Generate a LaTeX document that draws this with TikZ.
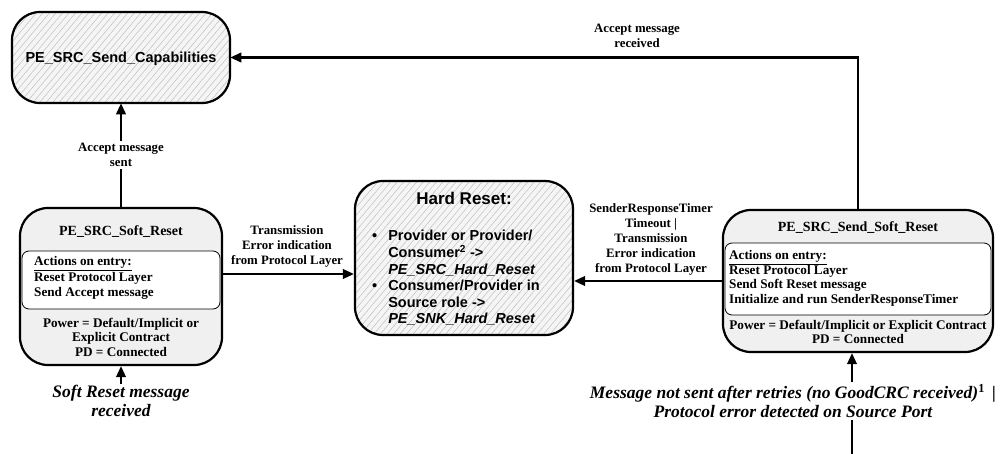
\documentclass[tikz,border=0pt]{standalone}
\usepackage{fontspec}
\setmainfont{Liberation Serif}
\newfontfamily\arialf{Liberation Sans}
\usetikzlibrary{arrows.meta,patterns.meta,calc}
\begin{document}
\begin{tikzpicture}[x=1pt,y=-1pt,
  arr/.style={line width=2.2pt,-{Triangle[length=11pt,width=9.5pt]}},
  hatchbox/.style={draw,line width=2.2pt,rounded corners=28pt,inner sep=0pt,
     preaction={fill=gray!8},
     pattern={Lines[angle=50,distance=5pt,line width=0.5pt]},pattern color=gray!50},
  statebox/.style={draw,line width=2.2pt,rounded corners=28pt,fill=gray!12,inner sep=0pt},
  actbox/.style={draw,line width=0.8pt,rounded corners=7pt,fill=white,inner sep=0pt},
  sanstitle/.style={font=\arialf\bfseries\fontsize{14.5}{16.5}\selectfont,align=center},
  boxtitle/.style={font=\bfseries\fontsize{14}{16}\selectfont,align=center},
  boxtxt/.style={font=\bfseries\fontsize{13.2}{14.5}\selectfont,inner sep=0pt},
  lbl/.style={font=\bfseries\fontsize{12.8}{15}\selectfont,align=center,inner sep=2pt},
  evt/.style={font=\bfseries\itshape\fontsize{17.5}{18.5}\selectfont,align=center,inner sep=2pt}
]
\useasboundingbox (0,0) rectangle (1005,453);

% states
\node[hatchbox,minimum width=218pt,minimum height=91pt] (cap) at (121,57.5) {};
\node[sanstitle] (captxt) at (121,59) {PE\_SRC\_Send\_Capabilities};

\node[statebox,minimum width=202pt,minimum height=157pt] (soft) at (121,286.5) {};
\node[boxtitle] (softtitle) at (121,232) {PE\_SRC\_Soft\_Reset};
\node[actbox,minimum width=198pt,minimum height=58pt] (softact) at (121,280) {};
\node[boxtxt,anchor=west,align=left,font=\bfseries\fontsize{13.2}{15.5}\selectfont] (softacttxt) at (34,278) {\underline{Actions on entry:}\\Reset Protocol Layer\\Send Accept message};
\node[boxtxt,align=center] (softcond) at (121,337) {Power = Default/Implicit or\\Explicit Contract\\PD = Connected};

\node[hatchbox,minimum width=218pt,minimum height=154pt] (hard) at (464,258) {};
\node[font=\arialf\bfseries\fontsize{17}{19}\selectfont] (hardtitle) at (464,198) {Hard Reset:};
\node[font=\arialf\bfseries\fontsize{14.5}{16.5}\selectfont,anchor=west,inner sep=0pt] (hardlist) at (372,279)
 {\begin{tabular}{@{}l@{\hspace{11pt}}l@{}}
  \textbullet & Provider or Provider/\\
   & Consumer\textsuperscript{2} ->\\
   & \textit{PE\_SRC\_Hard\_Reset}\\
  \textbullet & Consumer/Provider in\\
   & Source role ->\\
   & \textit{PE\_SNK\_Hard\_Reset}
 \end{tabular}};

\node[statebox,minimum width=270pt,minimum height=142pt] (ssr) at (858,281) {};
\node[boxtitle] (ssrtitle) at (858,228) {PE\_SRC\_Send\_Soft\_Reset};
\node[actbox,minimum width=266pt,minimum height=72pt] (ssract) at (858,279) {};
\node[boxtxt,anchor=west,align=left] (ssracttxt) at (729,278.5) {\underline{Actions on entry:}\\Reset Protocol Layer\\Send Soft Reset message\\Initialize and run SenderResponseTimer};
\node[boxtxt,align=center] (ssrcond) at (858,332) {Power = Default/Implicit or Explicit Contract\\PD = Connected};

% connectors
\draw[arr] (soft.north) -- node[lbl,fill=white] (l1) {Accept message\\sent} (cap.south);
\draw[arr] ([yshift=12.5pt]soft.east) -- ([yshift=12.5pt]soft.east -| hard.west);
\node[lbl] (l2) at (287,246) {Transmission\\Error indication\\from Protocol Layer};
\draw[arr] (ssr.west) -- (ssr.west -| hard.east);
\node[lbl] (l3) at (651,239) {SenderResponseTimer\\Timeout |\\Transmission\\Error indication\\from Protocol Layer};
\draw[arr] (ssr.north) |- (cap.east);
\node[lbl] (l4) at (637,35.5) {Accept message\\received};

\coordinate (in1) at (121,384);
\draw[arr] (in1) -- (soft.south);
\node[evt] (e1) at (121,401) {Soft Reset message\\received};

\coordinate (in2) at (852,455);
\draw[arr] (in2) -- (in2 |- ssr.south);
\node[evt,fill=white] (e2) at (793,401) {Message not sent after retries (no GoodCRC received)\textsuperscript{\upshape 1} \,|\\Protocol error detected on Source Port};
\end{tikzpicture}
\end{document}
